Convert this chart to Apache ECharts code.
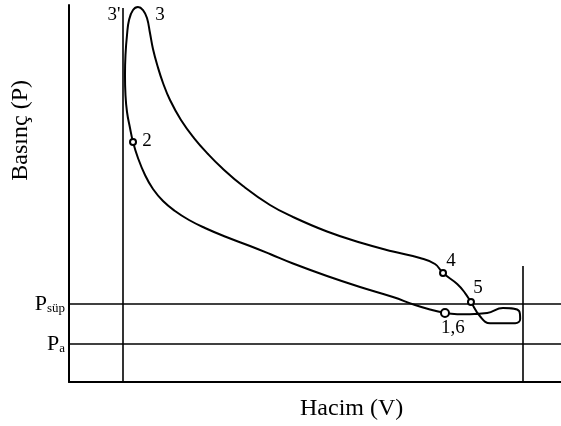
<!DOCTYPE html>
<html>
<head>
<meta charset="utf-8">
<script src="https://cdn.jsdelivr.net/npm/echarts@6/dist/echarts.min.js"></script>
<style>
  html, body { margin: 0; padding: 0; background: #fff; }
  #chart { width: 561px; height: 426px; }
</style>
</head>
<body>
<div id="chart"></div>
<script>
// Indicator diagram of a four-stroke engine (relative units, 0-100)
// Closed cycle path: 1 -> 2 (compression), 3' -> 3 (combustion),
// 3 -> 4 (expansion), 4 -> 5 -> exhaust/intake loop -> 6 (= 1)
const cycleV = [
  76.42, 73.78, 70.33, 65.85, 59.15, 52.44, 45.53, 40.85, 36.79, 31.71, 27.64, 24.39, 21.54, 19.11,
  17.07, 15.45, 14.02, 13.01,
  12.40, 11.79, 11.48, 11.38, 11.48, 11.79, 12.20, 13.01, 14.02, 15.04,
  15.85, 16.46, 17.07, 17.99, 19.11, 20.53, 22.76, 25.41, 28.25, 31.10, 35.37, 40.85, 45.53, 52.44,
  59.15, 65.85, 71.34, 74.39, 76.02,
  78.9, 80.5, 81.7, 83.5, 85.6, 90.7, 91.7, 91.5, 88.2, 85.0, 81.5, 78.9, 76.42];
const cycleP = [
  18.30, 19.10, 20.42, 22.55, 25.20, 28.12, 31.43, 33.95, 36.07, 38.59, 40.85, 42.97, 45.36, 48.01,
  51.19, 54.91, 59.42, 63.66,
  67.37, 71.62, 76.13, 81.43, 86.74, 92.04, 96.02, 98.67, 99.47, 98.67,
  96.55, 92.57, 88.33, 83.82, 79.31, 74.80, 69.50, 64.72, 60.48, 56.76, 51.99, 46.95, 43.77, 39.92,
  37.00, 34.62, 32.89, 31.30, 28.91,
  26.0, 23.6, 21.2, 17.5, 15.6, 15.6, 16.7, 18.8, 19.6, 18.3, 18.0, 18.0, 18.30];

// Marked states on the cycle
const stateNames = ['2', '4', '5', '1,6'];
const stateV = [13.01, 76.02, 81.7, 76.42];
const stateP = [63.66, 28.91, 21.2, 18.30];

// Peak of combustion (labels 3' and 3 sit beside it)
const peakV = 14.02;
const peakP = 99.47;

// Reference levels
const vTDC = 11.0;     // top dead centre
const vBDC = 92.3;     // bottom dead centre
const pSup = 20.7;     // boost pressure
const pAtm = 10.1;     // ambient pressure
const tdcTop = 99.2;
const bdcTop = 30.8;

const serif = '"Liberation Serif", "Times New Roman", serif';
const chart = echarts.init(document.getElementById('chart'));

const stateData = stateNames.map((n, i) => ({
  name: n,
  value: [stateV[i], stateP[i]],
  symbolSize: n === '1,6' ? 8 : 6
}));
const stateOffsets = {'2': [14, -1], '4': [8, -12], '5': [7, -14], '1,6': [8, 15]};

chart.setOption({
  animation: false,
  grid: { left: 69, right: 0, top: 5, bottom: 44 },
  xAxis: {
    type: 'value', min: 0, max: 100,
    axisLine: { show: true, lineStyle: { color: '#000', width: 2 } },
    axisTick: { show: false }, axisLabel: { show: false }, splitLine: { show: false }
  },
  yAxis: {
    type: 'value', min: 0, max: 100,
    axisLine: { show: true, lineStyle: { color: '#000', width: 2 } },
    axisTick: { show: false }, axisLabel: { show: false }, splitLine: { show: false }
  },
  graphic: [
    {
      type: 'text', left: 9, top: 80, rotation: Math.PI / 2,
      style: { text: 'Basınç (P)', font: '24px ' + serif, fill: '#000' }
    },
    {
      type: 'text', left: 300, top: 397,
      style: { text: 'Hacim (V)', font: '24px ' + serif, fill: '#000' }
    }
  ],
  series: [
    {
      type: 'line',
      data: cycleV.map((v, i) => [v, cycleP[i]]),
      smooth: 0.45,
      showSymbol: false,
      lineStyle: { color: '#000', width: 2 },
      silent: true,
      markLine: {
        silent: true,
        symbol: 'none',
        animation: false,
        lineStyle: { color: '#000', width: 1.6, type: 'solid' },
        label: {
          position: 'start', distance: 4, color: '#000', fontFamily: serif,
          rich: {
            p: { fontSize: 22, lineHeight: 22, verticalAlign: 'top', fontFamily: serif, color: '#000' },
            s: { fontSize: 13, lineHeight: 13, padding: [14, 0, 0, 0], verticalAlign: 'bottom', fontFamily: serif, color: '#000' }
          }
        },
        data: [
          { yAxis: pSup, label: { formatter: '{p|P}{s|süp}' } },
          { yAxis: pAtm, label: { formatter: '{p|P}{s|a}' } },
          [{ coord: [vTDC, 0], label: { show: false } }, { coord: [vTDC, tdcTop] }],
          [{ coord: [vBDC, 0], label: { show: false } }, { coord: [vBDC, bdcTop] }]
        ]
      }
    },
    {
      type: 'scatter',
      data: stateData,
      symbol: 'emptyCircle',
      itemStyle: { color: '#000', borderColor: '#000', borderWidth: 1.8, opacity: 1 },
      label: {
        show: true,
        position: 'inside',
        formatter: p => p.name,
        fontFamily: serif, fontSize: 19, color: '#000'
      },
      labelLayout: params => {
        const name = stateNames[params.dataIndex];
        const o = stateOffsets[name];
        return { dx: o[0], dy: o[1] };
      },
      silent: true,
      z: 5
    },
    {
      type: 'scatter',
      symbolSize: 0,
      itemStyle: { opacity: 1 },
      data: [
        { name: "3'", value: [peakV, peakP], label: { offset: [-24, 8] } },
        { name: '3', value: [peakV, peakP], label: { offset: [22, 8] } }
      ],
      label: {
        show: true, position: 'inside', formatter: p => p.name,
        fontFamily: serif, fontSize: 19, color: '#000'
      },
      silent: true
    }
  ]
});
</script>
</body>
</html>
